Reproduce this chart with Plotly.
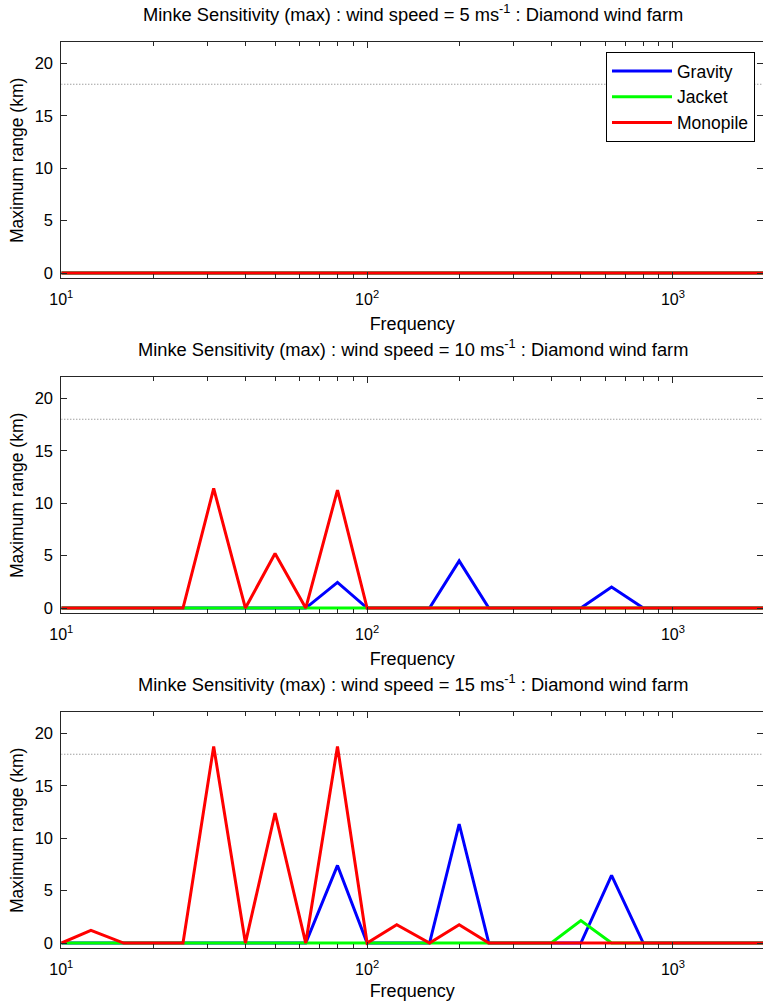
import plotly.graph_objects as go
import math

# ---- data ----
freqs = [10, 12.5, 16, 20, 25, 31.5, 40, 50, 63, 80, 100, 125, 160, 200,
         250, 315, 400, 500, 630, 800, 1000, 1250, 1600, 2000]

wind_speeds = [5, 10, 15]

gravity_5 = [0] * 24
jacket_5 = [0] * 24
monopile_5 = [0] * 24

gravity_10 = [0, 0, 0, 0, 0, 0, 0, 0, 0, 2.45, 0, 0, 0, 4.5, 0, 0, 0, 0, 2.0, 0, 0, 0, 0, 0]
jacket_10 = [0] * 24
monopile_10 = [0, 0, 0, 0, 0, 11.4, 0, 5.2, 0, 11.25, 0, 0, 0, 0, 0, 0, 0, 0, 0, 0, 0, 0, 0, 0]

gravity_15 = [0, 0, 0, 0, 0, 0, 0, 0, 0, 7.4, 0, 0, 0, 11.35, 0, 0, 0, 0, 6.45, 0, 0, 0, 0, 0]
jacket_15 = [0, 0, 0, 0, 0, 0, 0, 0, 0, 0, 0, 0, 0, 0, 0, 0, 0, 2.15, 0, 0, 0, 0, 0, 0]
monopile_15 = [0, 1.2, 0, 0, 0, 18.75, 0, 12.4, 0, 18.75, 0, 1.75, 0, 1.75, 0, 0, 0, 0, 0, 0, 0, 0, 0, 0]

threshold = 18

series_names = ["Gravity", "Jacket", "Monopile"]
series_colors = ["#0000FF", "#00FF00", "#FF0000"]
panels = [
    (gravity_5, jacket_5, monopile_5),
    (gravity_10, jacket_10, monopile_10),
    (gravity_15, jacket_15, monopile_15),
]

x_tickvals = [10, 100, 1000]
x_ticktext = ["10<sup>1</sup>", "10<sup>2</sup>", "10<sup>3</sup>"]
x_minor = [20, 30, 40, 50, 60, 70, 80, 90, 200, 300, 400, 500, 600, 700, 800, 900, 2000]
y_tickvals = [0, 5, 10, 15, 20]

# ---- layout geometry (pixels) ----
W, H = 763, 1001
panel_tops = [42.3, 377.3, 712.3]
panel_h = 236.0
left_px = 61.3

FONT = "Liberation Sans, Arial, sans-serif"
AXC = "#262626"

fig = go.Figure()

for i, data in enumerate(panels):
    xa = "x" if i == 0 else f"x{i+1}"
    ya = "y" if i == 0 else f"y{i+1}"
    # threshold dotted line
    fig.add_trace(go.Scatter(
        x=[freqs[0], freqs[-1]], y=[threshold, threshold], mode="lines",
        line=dict(color="#777777", width=1, dash="1px,2px"),
        showlegend=False, hoverinfo="skip", xaxis=xa, yaxis=ya))
    for name, color, vals in zip(series_names, series_colors, data):
        fig.add_trace(go.Scatter(
            x=freqs, y=vals, mode="lines", name=name,
            line=dict(color=color, width=3),
            showlegend=(i == 0), xaxis=xa, yaxis=ya))

    top = panel_tops[i]
    bot = top + panel_h
    ydom = [1 - bot / H, 1 - top / H]
    xkey = "xaxis" if i == 0 else f"xaxis{i+1}"
    ykey = "yaxis" if i == 0 else f"yaxis{i+1}"
    fig.layout[xkey] = dict(
        type="log", domain=[left_px / W, 1.0], anchor=ya, automargin=False,
        range=[1, math.log10(2000) - 0.0065],
        tickmode="array", tickvals=x_tickvals, ticktext=x_ticktext,
        ticks="inside", ticklen=6, tickcolor=AXC, tickwidth=1,
        minor=dict(tickmode="array", tickvals=x_minor, ticks="inside",
                   ticklen=4, tickcolor=AXC, tickwidth=1, showgrid=False),
        showline=True, linecolor=AXC, linewidth=1, mirror="ticks",
        showgrid=False, zeroline=False,
        ticklabelstandoff=6,
        tickfont=dict(family=FONT, size=16, color="black"),
        title=dict(text="Frequency", font=dict(family=FONT, size=18, color="black"),
                   standoff=10),
    )
    fig.layout[ykey] = dict(
        domain=ydom, anchor=xa, range=[-0.5, 22], automargin=False,
        tickmode="array", tickvals=y_tickvals,
        ticks="inside", ticklen=6, tickcolor=AXC, tickwidth=1,
        showline=True, linecolor=AXC, linewidth=1, mirror="ticks",
        showgrid=False, zeroline=False,
        ticklabelstandoff=4,
        tickfont=dict(family=FONT, size=16.5, color="black"),
        title=dict(text="Maximum range (km)", font=dict(family=FONT, size=17.5, color="black"),
                   standoff=6),
    )
    fig.add_annotation(
        text=f"Minke Sensitivity (max) : wind speed = {wind_speeds[i]} ms<sup>-1</sup> : Diamond wind farm",
        xref="paper", yref="paper", x=(left_px + 765) / 2 / W, y=1 - (top - 29) / H,
        xanchor="center", yanchor="middle", showarrow=False,
        font=dict(family=FONT, size=18.3, color="black"))

fig.update_layout(
    width=W, height=H, autosize=False,
    margin=dict(l=0, r=0, t=0, b=0),
    paper_bgcolor="white", plot_bgcolor="white",
    legend=dict(x=606 / W, y=1 - 52 / H, xanchor="left", yanchor="top",
                bgcolor="white", bordercolor="black", borderwidth=1,
                font=dict(family=FONT, size=17.5, color="black"),
                itemwidth=60, tracegroupgap=0),
    showlegend=True,
)

fig.write_html("out.html", config={"displayModeBar": False},
               post_script="document.body.style.margin='0';document.body.style.overflow='hidden';")
